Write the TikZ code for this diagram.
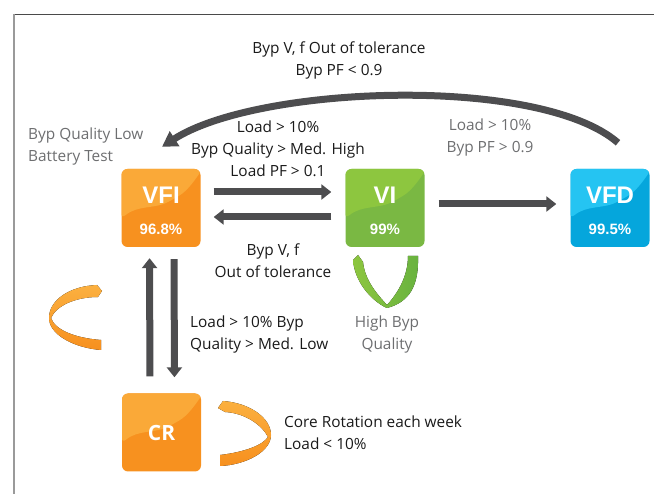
\documentclass[tikz,border=0pt]{standalone}
\usepackage{fontspec}
\setmainfont{Open Sans}
\newfontfamily\boxfont{Liberation Sans}
\usetikzlibrary{arrows.meta,calc}
\definecolor{arrgray}{HTML}{4D4D4F}
\definecolor{txtblack}{HTML}{1A1A1A}
\definecolor{txtgray}{HTML}{6D6E70}
\definecolor{frameA}{HTML}{4A4A4A}
\definecolor{frameB}{HTML}{9A9A9A}
\definecolor{orL}{HTML}{FAA938}
\definecolor{orD}{HTML}{F7911F}
\definecolor{grL}{HTML}{8DC63F}
\definecolor{grD}{HTML}{7AB843}
\definecolor{blL}{HTML}{25C4F2}
\definecolor{blD}{HTML}{05A6DC}
\definecolor{ribL}{HTML}{FBB040}
\definecolor{ribD}{HTML}{F7901E}
\definecolor{grnL}{HTML}{8DC63F}
\definecolor{grnD}{HTML}{68B23F}
\tikzset{
  statebox/.style 2 args={rectangle, rounded corners=6pt, minimum width=79pt,
    minimum height=78pt, inner sep=0pt, fill=#2,
    path picture={
      \fill[#1] (-40pt,40pt) -- (-40pt,-11pt) .. controls (-23.5pt,3pt) and (-5.5pt,-1pt) ..
        (12.5pt,9pt) .. controls (26.5pt,17pt) and (34.5pt,29pt) .. (41pt,38pt) -- (41pt,40pt) -- cycle;
      }},
  ttl/.style={font=\boxfont\bfseries\fontsize{24}{26}\selectfont, text=white, inner sep=0pt},
  pct/.style={font=\boxfont\bfseries\fontsize{15}{17}\selectfont, text=white, inner sep=0pt},
  lbl/.style={font=\fontsize{15.4}{22}\selectfont, text=txtblack, align=center, inner sep=0pt},
  glbl/.style={lbl, text=txtgray},
  arr/.style={draw=arrgray, line width=7pt, -{Triangle[width=15pt,length=10pt]}},
}
\begin{document}
\begin{tikzpicture}[x=1pt,y=-1pt]
\useasboundingbox (0,0) rectangle (654,494);
% frame
\draw[frameA, line width=1.2pt] (13,14.3) -- (654,14.3);
\draw[frameB, line width=1.6pt] (13.7,14) -- (13.7,494);

% state boxes
\node[statebox={orL}{orD}] (vfi) at (161,208) {};
\node[statebox={grL}{grD}] (vi) at (385,208) {};
\node[statebox={blL}{blD}] (vfd) at (610,208) {};
\node[statebox={orL}{orD}] (cr) at (161.5,432.5) {};

\node[ttl] (vfiT) at ([yshift=13pt]vfi.center) {VFI};
\node[pct] (vfiP) at ([yshift=-21pt]vfi.center) {96.8\%};
\node[ttl] (viT) at ([yshift=13pt]vi.center) {VI};
\node[pct] (viP) at ([yshift=-21pt]vi.center) {99\%};
\node[ttl] (vfdT) at ([yshift=13pt]vfd.center) {VFD};
\node[pct] (vfdP) at ([yshift=-21pt]vfd.center) {99.5\%};
\node[font=\bfseries\fontsize{21}{23}\selectfont, text=white, inner sep=0pt] (crT) at (cr.center) {CR};

% straight arrows
\draw[arr, shorten <=13pt, shorten >=14pt] ([yshift=16pt]vfi.east) -- ([yshift=16pt]vi.west);
\draw[arr, shorten <=14pt, shorten >=13pt] ([yshift=-9pt]vi.west) -- ([yshift=-9pt]vfi.east);
\draw[arr, shorten <=14pt, shorten >=14pt] ([yshift=4pt]vi.east) -- ([yshift=4pt]vfd.west);
\draw[arr, shorten <=17pt, shorten >=11pt] ([xshift=-11.5pt]cr.north) -- ([xshift=-11.5pt]vfi.south);
\draw[arr, shorten <=12pt, shorten >=16pt] ([xshift=13pt]vfi.south) -- ([xshift=13pt]cr.north);

% big curved arrow VFD -> VFI
\coordinate (aS) at ([xshift=8pt,yshift=26pt]vfd.north);
\coordinate (aE) at ([xshift=1pt,yshift=22pt]vfi.north);
\draw[draw=arrgray, line width=7pt, -{Triangle[width=17pt,length=15pt]}]
  (aS) .. controls (540,75) and (258,85) .. (aE);

% self-loop ribbons
\fill[top color=ribL, bottom color=ribD]
  (97,285) .. controls (70,286) and (49,300) .. (49,318)
  .. controls (49,335) and (75,348) .. (101,350) -- (101,340)
  .. controls (75,338) and (55,330) .. (51,318)
  .. controls (56,306) and (75,297) .. (98,297) -- (102,291) -- cycle;
\fill[top color=ribL, bottom color=ribD]
  (223,401) .. controls (250,403) and (271,418) .. (271,435)
  .. controls (271,452) and (245,465) .. (220,466) -- (220,455)
  .. controls (245,452) and (263,445) .. (268,437)
  .. controls (262,425) and (245,413) .. (225,412) -- (218,408) -- cycle;
\fill[left color=grnL, right color=grnD]
  (353,260) .. controls (355,285) and (375,303) .. (387,308)
  .. controls (410,302) and (419,285) .. (418,256) -- (408,256)
  .. controls (408,276) and (398,293) .. (387,305)
  .. controls (376,293) and (365,280) .. (363,262) -- (358,255) -- cycle;

% labels
\node[lbl] (t1) at (339,60.5) {Byp V, f Out of tolerance\\Byp PF < 0.9};
\node[lbl] (t2) at (278,148.5) {Load > 10\%\\Byp Quality > Med. High\\Load PF > 0.1};
\node[glbl] (t3) at (490,137.5) {Load > 10\%\\Byp PF > 0.9};
\node[glbl, align=left, anchor=west] (t4) at (28,146.5) {Byp Quality Low\\Battery Test};
\node[lbl] (t5) at (273,261) {Byp V, f\\Out of tolerance};
\node[lbl, align=left, anchor=west] (t6) at (190,334.5) {Load > 10\% Byp\\Quality > Med. Low};
\node[glbl] (t7) at (387,334.5) {High Byp\\Quality};
\node[lbl, align=left, anchor=west] (t8) at (284,432.5) {Core Rotation each week\\Load < 10\%};
\end{tikzpicture}
\end{document}
